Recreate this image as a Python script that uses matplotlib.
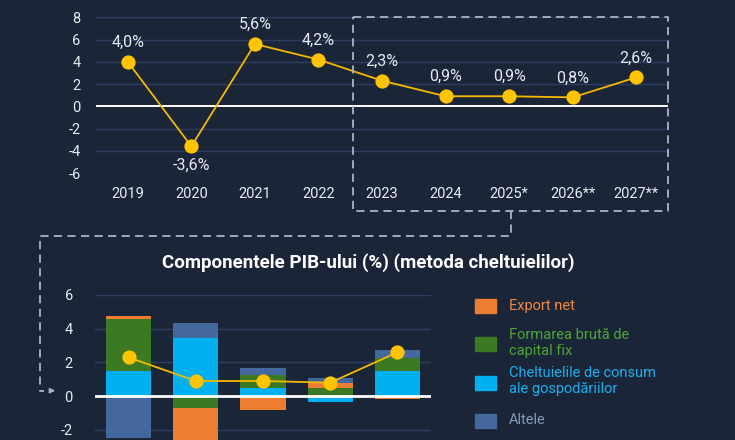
import numpy as np
import matplotlib.pyplot as plt
from matplotlib.lines import Line2D
from matplotlib.patches import FancyArrowPatch, Rectangle

plt.rcParams['font.family'] = ['Roboto', 'DejaVu Sans']
plt.rcParams['axes.unicode_minus'] = False

# --- data ---------------------------------------------------------------
years = ["2019", "2020", "2021", "2022", "2023", "2024", "2025*", "2026**", "2027**"]
gdp_growth = [4.0, -3.6, 5.6, 4.2, 2.3, 0.9, 0.9, 0.8, 2.6]
gdp_labels = ["4,0%", "-3,6%", "5,6%", "4,2%", "2,3%", "0,9%", "0,9%", "0,8%", "2,6%"]

comp_years = ["2023", "2024", "2025*", "2026**", "2027**"]
comp_total = [2.3, 0.9, 0.9, 0.8, 2.6]
consum = [1.50, 3.46, 0.47, -0.35, 1.50]
formare = [3.09, -0.68, 0.79, 0.50, 0.79]
export_net = [0.18, -2.75, -0.81, 0.30, -0.16]
altele = [-2.50, 0.87, 0.40, 0.29, 0.42]

BG = "#1a2538"
GRID = "#2b3f5e"
YELLOW = "#f5b800"
DOT = "#ffc400"
TXT = "#e8ecf2"
DASH = "#a9b6c8"
C_EXP, C_FOR, C_CON, C_ALT = "#ed7d31", "#3b7a23", "#00b0f0", "#44689e"

W, H = 735, 440
fig = plt.figure(figsize=(W / 100, H / 100), dpi=100, facecolor=BG)


def fx(px):
    return px / W


def fy(py):
    return 1 - py / H


# --- top chart: GDP growth ---------------------------------------------
ax = fig.add_axes([fx(96), fy(173), fx(668) - fx(96), fy(17.3) - fy(173)])
ax.set_facecolor(BG)
x = np.arange(len(years))
for v in [8, 6, 4, 2, -2, -4, -6]:
    ax.axhline(v, color=GRID, lw=1.0, zorder=0)
ax.axhline(0, color="white", lw=1.4, zorder=1)
ax.plot(x, gdp_growth, color=YELLOW, lw=1.3, zorder=2)
ax.scatter(x, gdp_growth, s=105, color=DOT, zorder=3, linewidths=0)
for xi, v, lab in zip(x, gdp_growth, gdp_labels):
    off = -14 if v < 0 else 14
    ax.annotate(lab, (xi, v), textcoords="offset points", xytext=(0, off),
                ha="center", va="center", color=TXT, fontsize=11.5)
ax.set_xlim(-0.5, len(years) - 0.5)
ax.set_ylim(-6, 8)
ax.set_yticks([8, 6, 4, 2, 0, -2, -4, -6])
ax.set_xticks(x)
ax.set_xticklabels(years)
ax.tick_params(length=0, colors=TXT, labelsize=10.5)
ax.tick_params(axis="y", pad=11)
ax.tick_params(axis="x", pad=10)
for s in ax.spines.values():
    s.set_visible(False)

# --- bottom chart: GDP components ---------------------------------------
bx = fig.add_axes([fx(95), 0, fx(431) - fx(95), fy(295) - 0])
bx.set_facecolor(BG)
xc = np.arange(len(comp_years))
for v in [6, 4, 2, -2]:
    bx.axhline(v, color=GRID, lw=1.0, zorder=0)

series = [(consum, C_CON), (formare, C_FOR), (export_net, C_EXP), (altele, C_ALT)]
pos_base = np.zeros(len(xc))
neg_base = np.zeros(len(xc))
for vals, col in series:
    vals = np.array(vals)
    pos = np.where(vals > 0, vals, 0)
    neg = np.where(vals < 0, vals, 0)
    bx.bar(xc, pos, 0.67, bottom=pos_base, color=col, zorder=1, linewidth=0)
    bx.bar(xc, neg, 0.67, bottom=neg_base, color=col, zorder=1, linewidth=0)
    pos_base += pos
    neg_base += neg

bx.axhline(0, color="white", lw=2.0, zorder=2)
bx.plot(xc, comp_total, color=YELLOW, lw=1.3, zorder=3)
bx.scatter(xc, comp_total, s=105, color=DOT, zorder=4, linewidths=0)
bx.set_xlim(-0.5, len(xc) - 0.5)
bx.set_ylim(-2.6, 6)
bx.set_yticks([6, 4, 2, 0, -2])
bx.set_xticks([])
bx.tick_params(length=0, colors=TXT, labelsize=10.5, pad=16)
for s in bx.spines.values():
    s.set_visible(False)

fig.text(fx(368.5), fy(263), "Componentele PIB-ului (%) (metoda cheltuielilor)",
         ha="center", va="center", color="white", fontsize=13.5, fontweight="bold")

# legend
legend_items = [
    ("Export net", C_EXP, "#ef8a3c", 305.5, 305.5),
    ("Formarea brută de\ncapital fix", C_FOR, "#4fa534", 344, 343),
    ("Cheltuielile de consum\nale gospodăriilor", C_CON, "#1bb0ee", 382.5, 381),
    ("Altele", C_ALT, "#8797b8", 420.5, 419.5),
]
for label, col, tcol, ysq, ytx in legend_items:
    fig.add_artist(Rectangle((fx(474.5), fy(ysq + 7)), fx(21), (14 / H),
                             transform=fig.transFigure, color=col))
    fig.text(fx(509), fy(ytx), label, ha="left", va="center", color=tcol,
             fontsize=10.5, linespacing=1.2)

# dashed box around the forecast years and connector to the lower chart
dash = dict(color=DASH, lw=1.3, linestyle=(0, (4.5, 3)), transform=fig.transFigure)
bx_x = [353.3, 667.7, 667.7, 353.3, 353.3]
bx_y = [17.3, 17.3, 210.7, 210.7, 17.3]
fig.add_artist(Line2D([fx(v) for v in bx_x], [fy(v) for v in bx_y], **dash))
con_x = [510.7, 510.7, 40, 40, 44]
con_y = [210.7, 235.7, 235.7, 390.7, 390.7]
fig.add_artist(Line2D([fx(v) for v in con_x], [fy(v) for v in con_y], **dash))
fig.add_artist(FancyArrowPatch((fx(48), fy(390.7)), (fx(58), fy(390.7)),
                               transform=fig.transFigure, arrowstyle="-|>",
                               mutation_scale=7, color=DASH, lw=1.2))

fig.savefig("out.png", dpi=100, facecolor=BG)
